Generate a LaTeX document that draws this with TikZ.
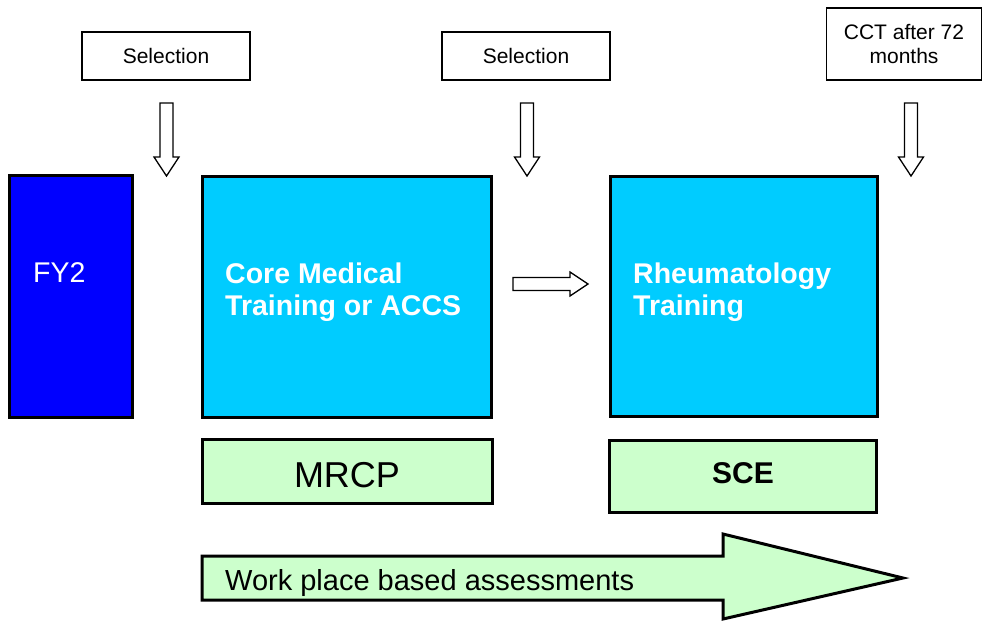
\documentclass[tikz,border=0pt]{standalone}
\usepackage{fontspec}
\setmainfont{Liberation Sans}
\definecolor{fyblue}{HTML}{0000FF}
\definecolor{cyanbox}{HTML}{00CCFF}
\definecolor{greenbox}{HTML}{CCFFCC}
\begin{document}
\begin{tikzpicture}[x=1pt,y=-1pt,
  selbox/.style={draw, line width=1.3pt, inner sep=0pt, align=center,
    font=\fontsize{21}{24}\selectfont},
  bigbox/.style={draw, line width=3pt, inner sep=0pt},
  greenrect/.style={draw, line width=3pt, inner sep=0pt, fill=greenbox},
  boxtext/.style={anchor=base west, inner sep=0pt, text=white, align=left,
    font=\fontsize{28.5}{32}\selectfont\bfseries},
  blockarrow/.style={draw, line width=1.3pt, fill=white, line join=miter},
  bigarrow/.style={draw, line width=3pt, fill=greenbox, line join=miter}]
\useasboundingbox (0,0) rectangle (984,621);

% top boxes
\node[selbox, minimum width=168pt, minimum height=48pt] (sel1) at (166,56) {Selection};
\node[selbox, minimum width=168pt, minimum height=48pt] (sel2) at (526,56) {Selection};
\node[selbox, minimum width=155pt, minimum height=72pt] (cct) at (904,44) {CCT after 72\\months};

% down arrows
\foreach \c/\n in {166.5/a1, 527/a2, 911/a3}{
  \draw[blockarrow] (\c-6.5,103) -- (\c+6.5,103) -- (\c+6.5,157) -- (\c+12.5,157)
    -- (\c,176) -- (\c-12.5,157) -- (\c-6.5,157) -- cycle;
}

% main boxes
\node[bigbox, fill=fyblue, minimum width=123pt, minimum height=242pt] (fy2) at (70.5,296) {};
\node[anchor=base west, inner sep=0pt, text=white, font=\fontsize{28.5}{32}\selectfont] (fy2t) at (33,282) {FY2};

\node[bigbox, fill=cyanbox, minimum width=289pt, minimum height=241pt] (cmt) at (346.5,296.5) {};
\node[boxtext] (cmtt) at (225,315) {Core Medical\\Training or ACCS};

\node[bigbox, fill=cyanbox, minimum width=267pt, minimum height=240pt] (rh) at (743.5,296) {};
\node[boxtext] (rht) at (633,315) {Rheumatology\\Training};

% middle arrow
\draw[blockarrow] (513,277.5) -- (570,277.5) -- (570,272) -- (588,284) -- (570,296)
  -- (570,290.5) -- (513,290.5) -- cycle;

% exam boxes
\node[greenrect, minimum width=290pt, minimum height=64pt] (mrcp) at (347,471) {};
\node[anchor=base, inner sep=0pt, font=\fontsize{36}{40}\selectfont] (mrcpt) at (347,487) {MRCP};
\node[greenrect, minimum width=267pt, minimum height=72pt] (sce) at (742.5,476) {};
\node[anchor=base, inner sep=0pt, font=\fontsize{30}{34}\selectfont\bfseries] (scet) at (743,483) {SCE};

% big arrow
\draw[bigarrow] (202,556) -- (723,556) -- (723,534) -- (903,578) -- (723,619)
  -- (723,600) -- (202,600) -- cycle;
\node[anchor=base west, inner sep=0pt, font=\fontsize{29}{32}\selectfont] (wpba) at (225,590) {Work place based assessments};
\end{tikzpicture}
\end{document}
